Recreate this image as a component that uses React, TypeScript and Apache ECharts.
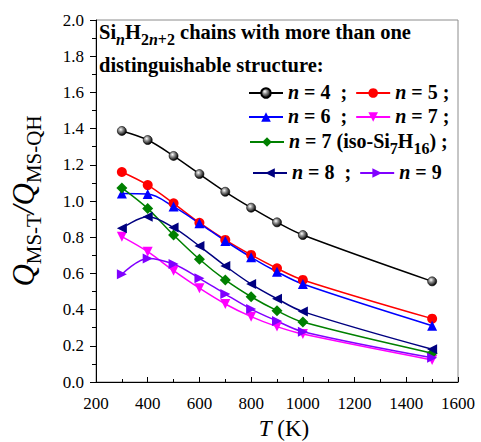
import React, { useEffect, useRef } from "react";
import * as echarts from "echarts";

const temperatures = [300, 400, 500, 600, 700, 800, 900, 1000, 1500];
const n4 = [1.387, 1.337, 1.249, 1.149, 1.051, 0.963, 0.882, 0.812, 0.556];
const n5 = [1.16, 1.088, 0.987, 0.88, 0.785, 0.702, 0.628, 0.564, 0.35];
const n6 = [1.042, 1.039, 0.969, 0.877, 0.779, 0.689, 0.609, 0.541, 0.311];
const n7 = [0.803, 0.72, 0.615, 0.518, 0.431, 0.361, 0.306, 0.265, 0.122];
const n7iso = [1.072, 0.958, 0.812, 0.678, 0.564, 0.471, 0.394, 0.331, 0.159];
const n8 = [0.849, 0.913, 0.853, 0.751, 0.641, 0.541, 0.46, 0.389, 0.181];
const n9 = [0.595, 0.683, 0.652, 0.573, 0.486, 0.403, 0.337, 0.278, 0.134];

const SERIF = "Liberation Serif";

const pairs = (ys: number[]) => temperatures.map((t, i) => [t, ys[i]]);

const legendRich = {
  i: { fontFamily: SERIF, fontSize: 20, fontWeight: "bold", fontStyle: "italic", color: "#000", lineHeight: 22, verticalAlign: "top" },
  b: { fontFamily: SERIF, fontSize: 20, fontWeight: "bold", color: "#000", lineHeight: 22, verticalAlign: "top" },
  s: { fontFamily: SERIF, fontSize: 16, fontWeight: "bold", color: "#000", lineHeight: 16, padding: [9, 0, 0, 0], verticalAlign: "top" },
};

const legendLabels: Record<string, string> = {
  "n = 4": "{i|n}{b| = 4  ;}",
  "n = 5": "{i|n}{b| = 5 ;}",
  "n = 6": "{i|n}{b| = 6  ;}",
  "n = 7": "{i|n}{b| = 7 ;}",
  "n = 7 iso": "{i|n}{b| = 7 (iso-Si}{s|7}{b|H}{s|16}{b|) ;}",
  "n = 8": "{i|n}{b| = 8  ;}",
  "n = 9": "{i|n}{b| = 9}",
};

const makeLegend = (names: string[], left: number, top: number) => ({
  data: names,
  left,
  top,
  orient: "horizontal",
  padding: 0,
  itemGap: 8,
  itemWidth: 34,
  itemHeight: 12,
  selectedMode: false,
  formatter: (name: string) => legendLabels[name],
  textStyle: { fontFamily: SERIF, rich: legendRich },
});

export default function App() {
  const ref = useRef<HTMLDivElement>(null);
  useEffect(() => {
    if (!ref.current) return;
    const chart = echarts.init(ref.current, undefined, { renderer: "svg" });
    const mkSeries = (name: string, ys: number[], color: string, symbol: string, size: number, rotate = 0, itemColor?: any) => ({
      name,
      type: "line",
      data: pairs(ys),
      smooth: 0.35,
      symbol,
      symbolSize: size,
      symbolRotate: rotate,
      showSymbol: true,
      lineStyle: { color, width: 1.5 },
      itemStyle: { color: itemColor || color, borderWidth: itemColor ? 0.6 : 0, borderColor: "#000" },
      z: 3,
    });
    const sphere = {
      type: "radial",
      x: 0.38,
      y: 0.35,
      r: 0.65,
      colorStops: [
        { offset: 0, color: "#ffffff" },
        { offset: 0.35, color: "#999999" },
        { offset: 1, color: "#000000" },
      ],
    };
    const titleRich = {
      b: { fontFamily: SERIF, fontSize: 20.5, fontWeight: "bold", fill: "#000", lineHeight: 24, verticalAlign: "top" },
      s: { fontFamily: SERIF, fontSize: 16, fontWeight: "bold", fill: "#000", lineHeight: 16, padding: [10, 0, 0, 0], verticalAlign: "top" },
      si: { fontFamily: SERIF, fontSize: 16, fontWeight: "bold", fontStyle: "italic", fill: "#000", lineHeight: 16, padding: [10, 0, 0, 0], verticalAlign: "top" },
    };
    chart.setOption({
      animation: false,
      textStyle: { fontFamily: SERIF },
      grid: { left: 96, right: 23, top: 20, bottom: 60, show: true, borderColor: "#8c8c8c", borderWidth: 1, outerBoundsMode: "none" },
      xAxis: {
        type: "value",
        min: 200,
        max: 1600,
        interval: 200,
        axisLine: { lineStyle: { color: "#000", width: 1 } },
        axisTick: { inside: true, length: 5, lineStyle: { color: "#000" } },
        minorTick: { show: true, splitNumber: 2, length: 3, lineStyle: { color: "#000" } },
        splitLine: { show: false },
        axisLabel: { color: "#000", fontFamily: SERIF, fontSize: 17, margin: 13, formatter: (v: number) => String(v) },
        name: "{t|T}{n| (K)}",
        nameLocation: "middle",
        nameGap: 35,
        nameTextStyle: {
          padding: [0, 0, 0, 14],
          rich: {
            t: { fontFamily: SERIF, fontSize: 23, fontStyle: "italic", color: "#000" },
            n: { fontFamily: SERIF, fontSize: 23, color: "#000" },
          },
        },
      },
      yAxis: {
        type: "value",
        min: 0,
        max: 2,
        interval: 0.2,
        axisLine: { lineStyle: { color: "#000", width: 1 } },
        axisTick: { inside: false, length: 6, lineStyle: { color: "#000" } },
        minorTick: { show: true, splitNumber: 2, length: 4, lineStyle: { color: "#000" } },
        splitLine: { show: false },
        axisLabel: { color: "#000", fontFamily: SERIF, fontSize: 17, margin: 12, formatter: (v: number) => v.toFixed(1) },
        name: "{q|Q}{s|MS-T}{q|/}{q|Q}{s|MS-QH}",
        nameLocation: "middle",
        nameRotate: 90,
        nameGap: 57,
        nameTextStyle: {
          rich: {
            q: { fontFamily: SERIF, fontSize: 31, fontStyle: "italic", color: "#000", lineHeight: 31, verticalAlign: "top" },
            s: { fontFamily: SERIF, fontSize: 21, color: "#000", lineHeight: 21, padding: [15, 0, 0, 0], verticalAlign: "top" },
          },
        },
      },
      legend: [
        makeLegend(["n = 4", "n = 5"], 248, 82),
        makeLegend(["n = 6", "n = 7"], 248, 106),
        makeLegend(["n = 7 iso"], 249, 131),
        makeLegend(["n = 8", "n = 9"], 252, 162),
      ],
      graphic: [
        {
          type: "text",
          left: 99,
          top: 21,
          z: 10,
          style: {
            fontFamily: SERIF,
            text: "{b|Si}{si|n}{b|H}{s|2}{si|n}{s|+2}{b| chains with more than one}",
            rich: titleRich,
          },
        },
        {
          type: "text",
          left: 99,
          top: 54,
          z: 10,
          style: {
            fontFamily: SERIF,
            text: "{b|distinguishable structure:}",
            rich: titleRich,
          },
        },
      ],
      series: [
        mkSeries("n = 4", n4, "#000000", "circle", 9, 0, sphere),
        mkSeries("n = 5", n5, "#ff0000", "circle", 10),
        mkSeries("n = 6", n6, "#0000ff", "triangle", 10),
        mkSeries("n = 7", n7, "#ff00ff", "triangle", 10, 180),
        mkSeries("n = 7 iso", n7iso, "#008000", "diamond", 11),
        mkSeries("n = 8", n8, "#000080", "triangle", 10, 90),
        mkSeries("n = 9", n9, "#8000ff", "triangle", 10, -90),
      ],
    });
    return () => chart.dispose();
  }, []);
  return <div ref={ref} style={{ position: "absolute", left: 0, top: 0, width: 481, height: 442 }} />;
}
